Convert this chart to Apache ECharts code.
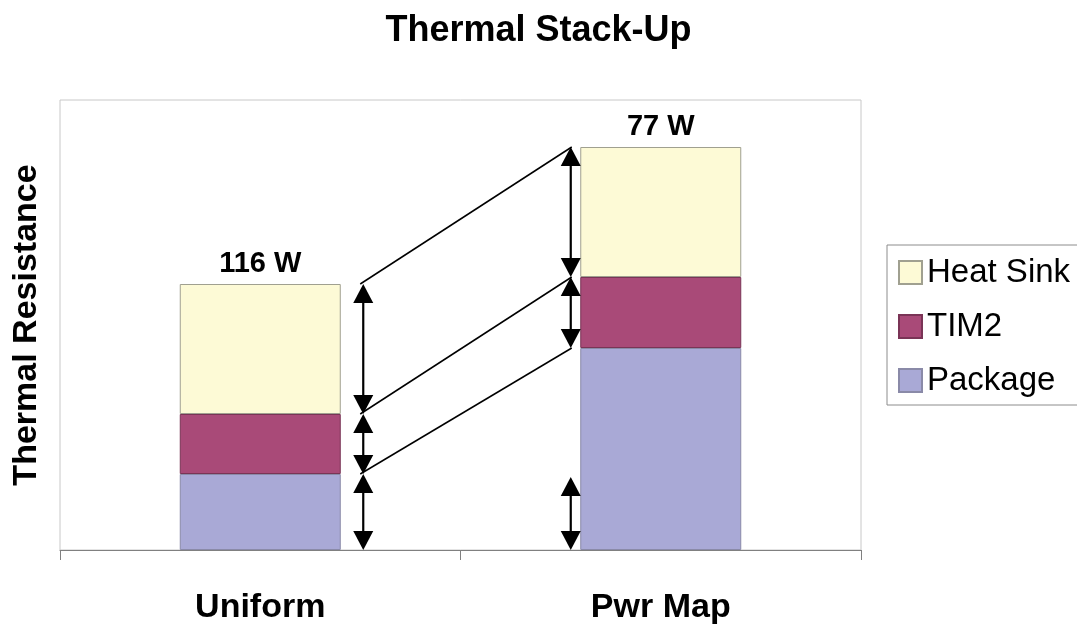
<!DOCTYPE html>
<html>
<head>
<meta charset="utf-8">
<script src="https://cdn.jsdelivr.net/npm/echarts@6/dist/echarts.min.js"></script>
<style>html,body{margin:0;padding:0;background:#fff}#c{width:1077px;height:624px}</style>
</head>
<body>
<div id="c"></div>
<script>
// ---- data ----
const categories = ['Uniform', 'Pwr Map'];
const packageVals = [0.76, 2.02];
const tim2Vals = [0.60, 0.71];
const heatSinkVals = [1.30, 1.30];
const powerLabels = ['116 W', '77 W'];
// arrow spans [categoryIndex, low, high]
const arrowSpans = [
  [0, 0, 0.76], [0, 0.76, 1.36], [0, 1.36, 2.66],
  [1, 0, 0.73], [1, 2.02, 2.73], [1, 2.73, 4.03]
];
// connector levels [uniformLevel, pwrMapLevel]
const connectorLevels = [[2.66, 4.03], [1.36, 2.73], [0.76, 2.02]];

const FONT = '"Liberation Sans", Arial, sans-serif';
const chart = echarts.init(document.getElementById('c'));

function arrowX(api, cat, v) {
  const p = api.coord([cat, v]);
  return cat === 0 ? p[0] + 103 : p[0] - 90;
}

chart.setOption({
  animation: false,
  title: {
    text: 'Thermal Stack-Up', left: 'center', top: 8,
    textStyle: { fontFamily: FONT, fontWeight: 'bold', fontSize: 36, color: '#000' }
  },
  legend: {
    orient: 'vertical', left: 887, top: 245,
    data: ['Heat Sink', 'TIM2', 'Package'],
    icon: 'rect',
    itemWidth: 23, itemHeight: 23, itemGap: 21, itemTextGap: 11,
    padding: [11, 11, 8, 11],
    borderColor: '#8c8c8c', borderWidth: 1,
    textStyle: { fontFamily: FONT, fontSize: 33, color: '#000' }
  },
  grid: {
    left: 60, right: 216, top: 100, bottom: 74,
    outerBoundsMode: 'none', containLabel: false,
    show: true, borderColor: '#c8c8c8', borderWidth: 1
  },
  xAxis: {
    type: 'category', data: categories,
    axisLine: { lineStyle: { color: '#808080', width: 1 } },
    axisTick: { show: true, length: 10, lineStyle: { color: '#808080' } },
    axisLabel: { margin: 41, fontFamily: FONT, fontWeight: 'bold', fontSize: 34, color: '#000' }
  },
  yAxis: {
    type: 'value', min: 0, max: 4.5,
    name: 'Thermal Resistance', nameLocation: 'middle', nameGap: 16,
    nameTextStyle: { fontFamily: FONT, fontWeight: 'bold', fontSize: 34, color: '#000' },
    axisLine: { show: false }, axisTick: { show: false },
    axisLabel: { show: false }, splitLine: { show: false }
  },
  series: [
    {
      name: 'Package', type: 'bar', stack: 's', barWidth: 161, data: packageVals,
      itemStyle: { color: '#a9a9d6', borderColor: '#8a8aa8', borderWidth: 1 }
    },
    {
      name: 'TIM2', type: 'bar', stack: 's', data: tim2Vals,
      itemStyle: { color: '#a94a78', borderColor: '#7a3456', borderWidth: 1 }
    },
    {
      name: 'Heat Sink', type: 'bar', stack: 's', data: heatSinkVals,
      itemStyle: { color: '#fdfad6', borderColor: '#a0a090', borderWidth: 1 },
      label: {
        show: true, position: 'top', distance: 6,
        formatter: p => powerLabels[p.dataIndex],
        fontFamily: FONT, fontWeight: 'bold', fontSize: 29, color: '#000'
      }
    },
    {
      name: 'arrows', type: 'custom', data: arrowSpans,
      encode: { x: 0, y: [1, 2] }, z: 5,
      renderItem: function (params, api) {
        const cat = api.value(0);
        const x = arrowX(api, cat, api.value(1));
        const yb = api.coord([cat, api.value(1)])[1];
        const yt = api.coord([cat, api.value(2)])[1];
        const hw = 10, hl = 19;
        return {
          type: 'group',
          children: [
            { type: 'line', shape: { x1: x, y1: yt + hl - 2, x2: x, y2: yb - hl + 2 },
              style: { stroke: '#000', lineWidth: 2.2 } },
            { type: 'polygon', shape: { points: [[x, yt], [x - hw, yt + hl], [x + hw, yt + hl]] },
              style: { fill: '#000' } },
            { type: 'polygon', shape: { points: [[x, yb], [x - hw, yb - hl], [x + hw, yb - hl]] },
              style: { fill: '#000' } }
          ]
        };
      }
    },
    {
      name: 'connectors', type: 'custom',
      data: connectorLevels.map(l => [0, l[0], 1, l[1]]),
      encode: { x: [0, 2], y: [1, 3] }, z: 5,
      renderItem: function (params, api) {
        const x1 = arrowX(api, 0, api.value(1)) - 3;
        const y1 = api.coord([0, api.value(1)])[1];
        const x2 = arrowX(api, 1, api.value(3)) + 1;
        const y2 = api.coord([1, api.value(3)])[1];
        return { type: 'line', shape: { x1: x1, y1: y1, x2: x2, y2: y2 },
          style: { stroke: '#000', lineWidth: 1.5 } };
      }
    }
  ]
});
</script>
</body>
</html>
